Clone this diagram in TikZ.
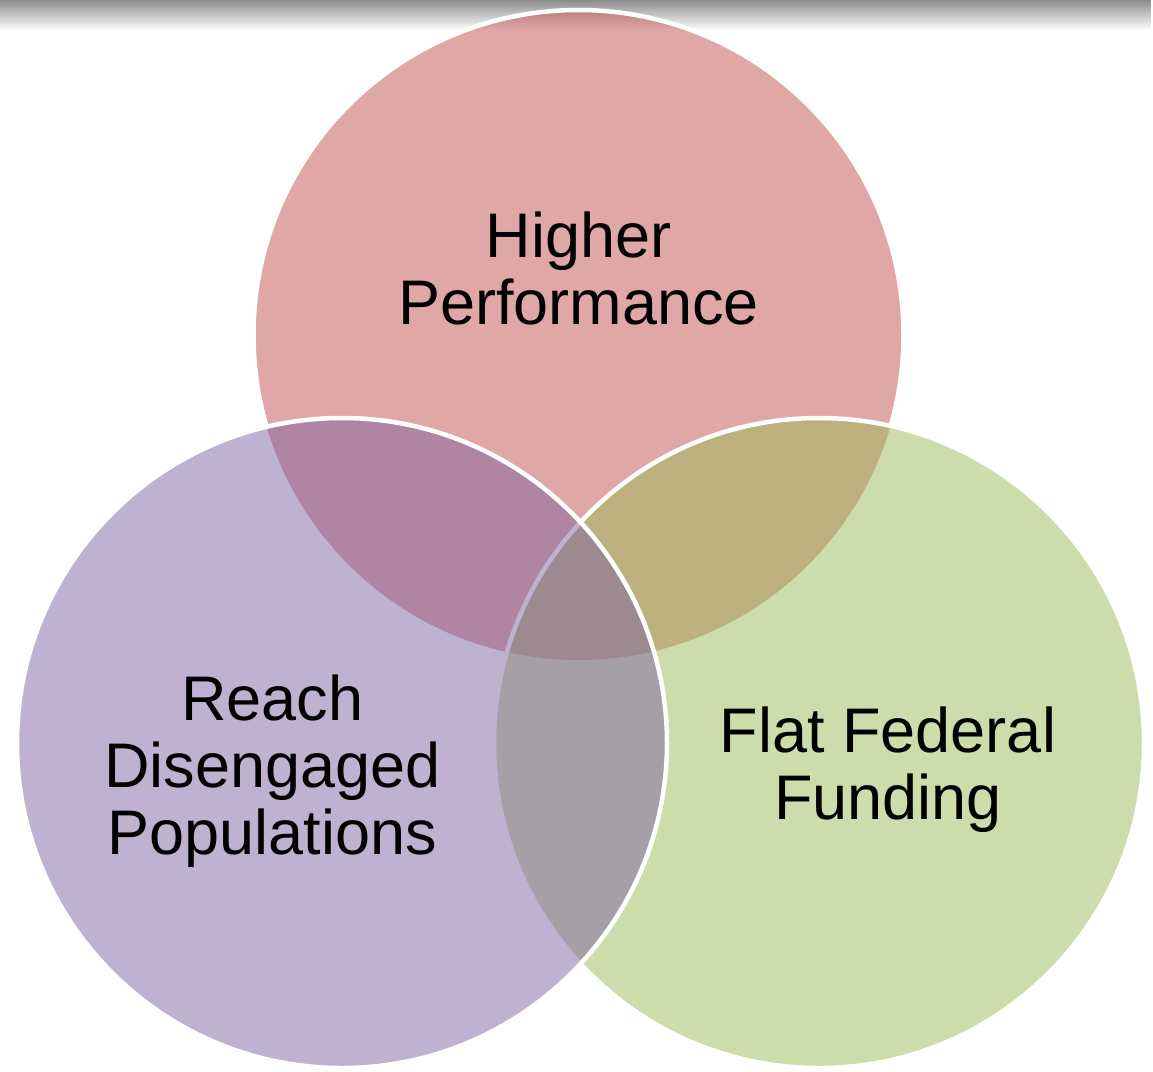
\documentclass[tikz,border=0pt]{standalone}
\usepackage{fontspec}
\setmainfont{Liberation Sans}
\usetikzlibrary{fadings}
\definecolor{vred}{HTML}{C0504D}
\definecolor{vgreen}{HTML}{9BBB59}
\definecolor{vpurple}{HTML}{8064A2}
\tikzset{
  vfill/.style={fill opacity=0.5},
  wline/.style={draw=white, line width=4.5pt},
  label/.style={inner sep=0pt, anchor=north, align=center, text=black,
    font=\fontsize{63}{67}\selectfont},
}
\begin{document}
\begin{tikzpicture}[x=1pt,y=-1pt]
\useasboundingbox (0,0) rectangle (1153,1071);
\fill[white] (0,0) rectangle (1153,1071);
% top shadow band
\fill[black, fill opacity=0.45, path fading=south] (0,0) rectangle (1153,30);
\coordinate (cT) at (578.5,335);
\coordinate (cL) at (342,743);
\coordinate (cR) at (819,743);
% fills and outlines
\fill[vred, vfill] (cT) circle[radius=325pt];
\fill[vgreen, vfill] (cR) circle[radius=325pt];
\draw[wline] (cR) circle[radius=325pt];
\fill[vpurple, vfill] (cL) circle[radius=325pt];
\draw[wline] (cL) circle[radius=325pt];
\begin{scope}[even odd rule]
  \clip (-20,-20) rectangle (1200,1100) (cR) circle[radius=325pt];
  \begin{scope}[even odd rule]
    \clip (-20,-20) rectangle (1200,1100) (cL) circle[radius=325pt];
    \draw[wline] (cT) circle[radius=325pt];
  \end{scope}
\end{scope}
% labels
\node[label] (tHigher) at (578.5,211.5) {Higher\\Performance};
\node[label] (tReach) at (272.5,675) {Reach\\Disengaged\\Populations};
\node[label] (tFlat) at (888,707) {Flat Federal\\Funding};
\end{tikzpicture}
\end{document}
